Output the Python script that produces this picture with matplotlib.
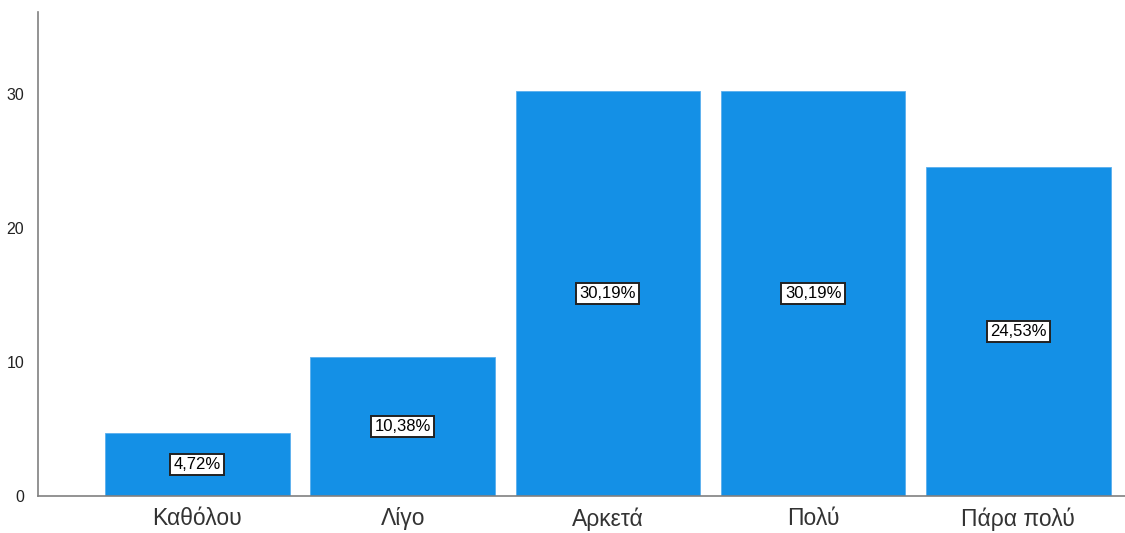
import matplotlib
matplotlib.use("Agg")
import matplotlib.pyplot as plt

categories = ["Καθόλου", "Λίγο", "Αρκετά", "Πολύ", "Πάρα πολύ"]
percents = [4.72, 10.38, 30.19, 30.19, 24.53]
yticks = [0, 10, 20, 30]

plt.rcParams['font.family'] = ['Liberation Sans', 'DejaVu Sans']

fig = plt.figure(figsize=(11.25, 5.33), dpi=100)
ax = fig.add_axes([38 / 1125, 1 - 496 / 533, 1 - 38 / 1125, (496 - 12) / 533])

x = list(range(len(categories)))
ax.bar(x, percents, width=0.9, color='#1490e6', edgecolor='#5aaeee', linewidth=0.6)

for xi, p in zip(x, percents):
    ax.text(xi, p / 2, f"{p:.2f}%".replace('.', ','), ha='center', va='center',
            fontsize=12, color='black',
            bbox=dict(boxstyle='square,pad=0.2', facecolor='white',
                      edgecolor='#222222', linewidth=1.4))

ax.set_xlim(-0.777, 4.52)
ax.set_ylim(0, 36.1)
ax.set_yticks(yticks)
ax.set_xticks(x)
ax.set_xticklabels(categories, fontsize=16.5, color='#333333')
ax.tick_params(axis='y', length=0, pad=10, labelsize=11.5, labelcolor='#222222')
ax.tick_params(axis='x', length=0, pad=8)

for side in ['top', 'right']:
    ax.spines[side].set_visible(False)
for side in ['left', 'bottom']:
    ax.spines[side].set_color('#808080')
    ax.spines[side].set_linewidth(1.2)

fig.savefig('out.png', dpi=100)
